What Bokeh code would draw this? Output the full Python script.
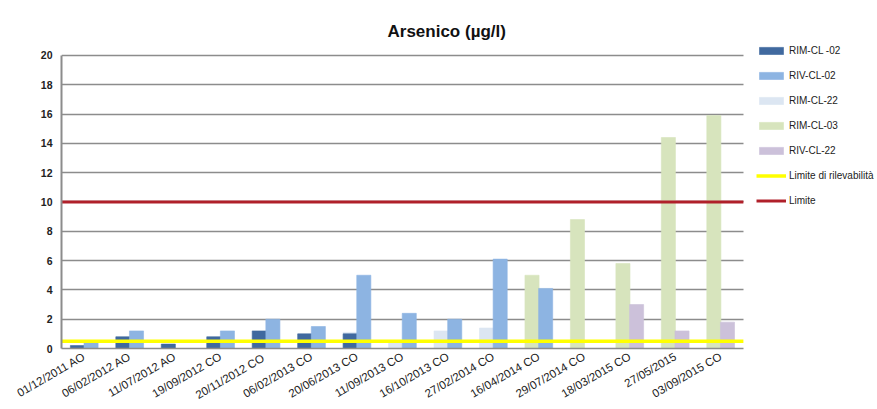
from bokeh.plotting import figure
from bokeh.models import ColumnDataSource, Legend, LegendItem, FixedTicker
from bokeh.transform import dodge
from bokeh.embed import file_html
from bokeh.resources import INLINE
import math

# Sampling dates
dates = [
    "01/12/2011 AO", "06/02/2012 AO", "11/07/2012 AO", "19/09/2012 CO",
    "20/11/2012  CO", "06/02/2013 CO", "20/06/2013 CO", "11/09/2013 CO",
    "16/10/2013 CO", "27/02/2014 CO", "16/04/2014 CO", "29/07/2014 CO",
    "18/03/2015 CO", "27/05/2015", "03/09/2015 CO",
]

# Arsenic concentrations (µg/l) per sampling point; None = not sampled
rim_cl_02 = [0.2, 0.8, 0.3, 0.8, 1.2, 1.0, 1.0, None, None, None, None, None, None, None, None]
riv_cl_02 = [0.4, 1.2, None, 1.2, 2.0, 1.5, 5.0, 2.4, 2.0, 6.1, 4.1, None, None, None, None]
rim_cl_22 = [None, None, None, None, None, None, 1.1, 0.5, 1.2, 1.4, None, None, None, None, None]
rim_cl_03 = [None, None, None, None, None, None, None, None, None, None, 5.0, 8.8, 5.8, 14.4, 15.9]
riv_cl_22 = [None, None, None, None, None, None, None, None, None, None, None, None, 3.0, 1.2, 1.8]

limite_rilevabilita = 0.5
limite = 10

y_ticks = list(range(0, 21, 2))
y_max = 20

n = len(dates)
idx = list(range(n))
x_lo, x_hi = -0.5, n - 0.5          # extent of the category axis
legend_room = 2.95                   # extra room on the right for the legend

p = figure(
    width=877, height=409,
    x_range=(x_lo, x_hi + legend_room),
    y_range=(0, y_max + 1.02),
    output_backend="svg", toolbar_location=None,
    min_border_left=61, min_border_right=0,
    min_border_top=40, min_border_bottom=61,
)
p.outline_line_color = None
p.background_fill_color = "white"
p.border_fill_color = "white"

# Title
p.title.text = "Arsenico (µg/l)"
p.title.text_font = "Liberation Sans"
p.title.text_font_size = "17px"
p.title.text_font_style = "bold"
p.title.text_color = "#111111"
p.title.align = "left"
p.title.offset = 326
p.title.standoff = 0

# Grid and axes
p.xgrid.grid_line_color = None
p.ygrid.ticker = FixedTicker(ticks=y_ticks)
p.ygrid.grid_line_color = "#8c8c8c"
p.ygrid.grid_line_width = 1.6
p.ygrid.cross_bounds = (x_lo, x_hi)

p.yaxis.ticker = FixedTicker(ticks=y_ticks)
p.yaxis.bounds = (0, y_max)
p.yaxis.axis_line_color = "#8c8c8c"
p.yaxis.axis_line_width = 2
p.yaxis.major_tick_line_color = None
p.yaxis.minor_tick_line_color = None
p.yaxis.major_tick_out = 0
p.yaxis.major_tick_in = 0
p.yaxis.minor_tick_out = 0
p.yaxis.major_label_text_font = "Liberation Sans"
p.yaxis.major_label_text_font_size = "10.5px"
p.yaxis.major_label_text_font_style = "bold"
p.yaxis.major_label_text_color = "#222222"
p.yaxis.major_label_standoff = 9

p.xaxis.ticker = FixedTicker(ticks=idx)
p.xaxis.major_label_overrides = {i: d for i, d in enumerate(dates)}
p.xaxis.bounds = (x_lo, x_hi)
p.xaxis.axis_line_color = "#8c8c8c"
p.xaxis.axis_line_width = 1.6
p.xaxis.major_tick_line_color = None
p.xaxis.minor_tick_line_color = None
p.xaxis.major_tick_out = 0
p.xaxis.major_tick_in = 0
p.xaxis.minor_tick_out = 0
p.xaxis.axis_label_standoff = 0
p.xaxis.major_label_orientation = math.radians(30)
p.xaxis.major_label_text_font = "Liberation Sans"
p.xaxis.major_label_text_font_size = "11.5px"
p.xaxis.major_label_text_color = "#222222"
p.xaxis.major_label_standoff = 7


def bars(values, offset, color):
    xs = [i for i, v in zip(idx, values) if v is not None]
    tops = [v for v in values if v is not None]
    src = ColumnDataSource(dict(x=xs, top=tops))
    return p.vbar(x=dodge("x", offset), top="top", bottom=0,
                  width=0.31, source=src, fill_color=color,
                  line_color=color, line_alpha=0.6)


# Left slot: monte (RIM) points, right slot: valle (RIV) points
r_rim22 = bars(rim_cl_22, -0.15, "#dce6f2")
r_rim03 = bars(rim_cl_03, -0.15, "#d7e4bd")
r_rim02 = bars(rim_cl_02, -0.15, "#40699f")
r_riv02 = bars(riv_cl_02, 0.15, "#8db4e2")
r_riv22 = bars(riv_cl_22, 0.15, "#ccc1da")

# Threshold lines spanning the category axis
r_ril = p.line(x=[x_lo, x_hi], y=[limite_rilevabilita] * 2, line_color="#ffff00", line_width=3.5)
r_lim = p.line(x=[x_lo, x_hi], y=[limite] * 2, line_color="#b0202a", line_width=3)

legend = Legend(
    items=[
        LegendItem(label="RIM-CL -02", renderers=[r_rim02]),
        LegendItem(label="RIV-CL-02", renderers=[r_riv02]),
        LegendItem(label="RIM-CL-22", renderers=[r_rim22]),
        LegendItem(label="RIM-CL-03", renderers=[r_rim03]),
        LegendItem(label="RIV-CL-22", renderers=[r_riv22]),
        LegendItem(label="Limite di rilevabilità", renderers=[r_ril]),
        LegendItem(label="Limite", renderers=[r_lim]),
    ],
    location=(695, 142),
    orientation="vertical",
    padding=0, margin=0, spacing=14,
    glyph_width=30, glyph_height=9, label_height=9,
    label_standoff=3,
    label_text_font="Liberation Sans", label_text_font_size="10px",
    label_text_color="#222222",
    border_line_color=None, background_fill_alpha=0,
)
p.add_layout(legend)

open("out.html", "w").write(file_html(p, INLINE))
